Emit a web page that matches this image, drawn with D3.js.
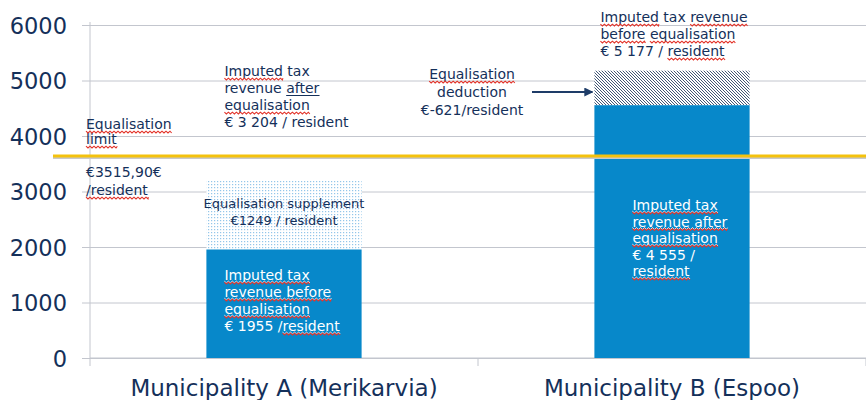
<!DOCTYPE html>
<html lang="en">

<head>
    <meta charset="UTF-8">
    <title>Equalisation</title>
    <style>
        body { margin: 0; background: #fff; }
        svg text { font-family: "DejaVu Sans", Verdana, sans-serif; }
    </style>
</head>

<body>
    <svg id="svg" width="866" height="400"></svg>

    <script src="https://d3js.org/d3.v7.min.js"></script>
    <script>
        // values
        const categories = ['Municipality A (Merikarvia)', 'Municipality B (Espoo)']
        const beforeValues = [1955, 5177]   // imputed tax revenue before equalisation
        const afterValues = [3204, 4555]    // imputed tax revenue after equalisation
        const yTicks = [0, 1000, 2000, 3000, 4000, 5000, 6000]
        const limitValue = 3640             // where the yellow line is drawn

        // annotation lines: [text, decoration] pieces ('sq' = spell squiggle, 'ul' = underline)
        const limitText = [
            [['Equalisation', 'sq']],
            [['limit', 'sq']]
        ]
        const limitValueText = [
            [['€3515,90€', '']],
            [['/resident', 'sq']]
        ]
        const afterAText = [
            [['Imputed', 'sq'], [' tax', '']],
            [['revenue ', ''], ['after', 'ul']],
            [['equalisation', 'sq']],
            [['€ 3 204 / resident', '']]
        ]
        const supplementText = [
            [['Equalisation supplement', '']],
            [['€1249 / resident', '']]
        ]
        const beforeAText = [
            [['Imputed tax', 'sq']],
            [['revenue before', 'sq']],
            [['equalisation', 'sq']],
            [['€ 1955 /', ''], ['resident', 'sq']]
        ]
        const deductionText = [
            [['Equalisation', 'sq']],
            [['deduction', '']],
            [['€-621/resident', '']]
        ]
        const beforeBText = [
            [['Imputed', 'sq'], [' tax ', ''], ['revenue', 'sq']],
            [['before', 'sq'], [' ', ''], ['equalisation', 'sq']],
            [['€ 5 177 / ', ''], ['resident', 'sq']]
        ]
        const afterBText = [
            [['Imputed tax', 'sq']],
            [['revenue after', 'sq']],
            [['equalisation', 'sq']],
            [['€ 4 555 /', '']],
            [['resident', 'sq']]
        ]

        const svg = d3.select('#svg')
        const mLeft = 90, mRight = 866, mTop = 25, mBottom = 358
        const navy = '#14305a'
        const blue = '#0788ca'
        const grid = '#c3c6ce'

        const x = d3.scaleBand()
            .domain(categories)
            .range([mLeft, mRight])
        const y = d3.scaleLinear()
            .domain([0, 6000])
            .range([mBottom, mTop])

        const barW = x.bandwidth() * 0.4
        const barX = d => x(d) + (x.bandwidth() - barW) / 2

        // patterns
        const defs = svg.append('defs')
        const dots = defs.append('pattern')
            .attr('id', 'dots')
            .attr('width', 3).attr('height', 3)
            .attr('patternUnits', 'userSpaceOnUse')
        dots.append('rect').attr('width', 3).attr('height', 3).attr('fill', '#fff')
        dots.append('rect').attr('x', 1).attr('y', 1).attr('width', 1.2).attr('height', 1.2).attr('fill', '#93c6ea')

        const hatch = defs.append('pattern')
            .attr('id', 'hatch')
            .attr('width', 3).attr('height', 3)
            .attr('patternUnits', 'userSpaceOnUse')
        hatch.append('rect').attr('width', 3).attr('height', 3).attr('fill', '#fff')
        hatch.append('path')
            .attr('d', 'M-1,-1 L4,4 M-1,2 L1,4 M2,-1 L4,1')
            .attr('stroke', '#2c4466').attr('stroke-width', 0.9)

        defs.append('marker')
            .attr('id', 'arrow')
            .attr('viewBox', '0 0 10 10')
            .attr('refX', 9).attr('refY', 5)
            .attr('markerWidth', 4.5).attr('markerHeight', 4.5)
            .attr('orient', 'auto')
            .append('path')
            .attr('d', 'M0,0 L10,5 L0,10 Z')
            .attr('fill', '#1e3c68')

        // grid + y axis
        const yAxis = svg.append('g')
            .attr('transform', `translate(${mLeft},0)`)
            .call(d3.axisLeft(y).tickValues(yTicks).tickFormat(d3.format('d')).tickSize(8).tickPadding(15))
        yAxis.select('.domain').remove()
        yAxis.selectAll('.tick line')
            .attr('x2', mRight - mLeft)
            .attr('x1', -8)
            .attr('stroke', grid)
        yAxis.selectAll('.tick text')
            .attr('fill', navy)
            .style('font-size', '22.5px')
            .attr('dy', '0.36em')

        svg.append('line')
            .attr('x1', mLeft).attr('x2', mLeft)
            .attr('y1', mTop - 3).attr('y2', mBottom + 8)
            .attr('stroke', grid)

        // bottom axis (ticks on category boundaries)
        svg.append('line')
            .attr('x1', mLeft).attr('x2', mRight)
            .attr('y1', mBottom).attr('y2', mBottom)
            .attr('stroke', grid)
        svg.selectAll('.sep')
            .data(categories)
            .enter()
            .append('line')
            .attr('x1', d => x(d) + x.bandwidth())
            .attr('x2', d => x(d) + x.bandwidth())
            .attr('y1', mBottom).attr('y2', mBottom + 8)
            .attr('stroke', grid)
        svg.selectAll('.cat')
            .data(categories)
            .enter()
            .append('text')
            .attr('x', d => x(d) + x.bandwidth() / 2)
            .attr('y', 396)
            .attr('text-anchor', 'middle')
            .attr('fill', navy)
            .style('font-size', '23px')
            .text(d => d)

        // bars
        const lower = categories.map((c, i) => Math.min(beforeValues[i], afterValues[i]))
        const upper = categories.map((c, i) => Math.max(beforeValues[i], afterValues[i]))

        svg.selectAll('.top')
            .data(categories)
            .enter()
            .append('rect')
            .attr('x', d => barX(d))
            .attr('width', barW)
            .attr('y', (d, i) => y(upper[i]))
            .attr('height', (d, i) => y(lower[i]) - y(upper[i]))
            .attr('fill', (d, i) => afterValues[i] > beforeValues[i] ? 'url(#dots)' : 'url(#hatch)')

        svg.selectAll('.base')
            .data(categories)
            .enter()
            .append('rect')
            .attr('x', d => barX(d))
            .attr('width', barW)
            .attr('y', (d, i) => y(lower[i]))
            .attr('height', (d, i) => y(0) - y(lower[i]))
            .attr('fill', blue)

        // equalisation limit
        svg.append('line')
            .attr('x1', 53).attr('x2', mRight)
            .attr('y1', y(limitValue) + 2).attr('y2', y(limitValue) + 2)
            .attr('stroke', '#c9c9c9').attr('stroke-width', 2)
        svg.append('line')
            .attr('x1', 53).attr('x2', mRight)
            .attr('y1', y(limitValue)).attr('y2', y(limitValue))
            .attr('stroke', '#f4c20d').attr('stroke-width', 3)

        // text helper, squiggles and underlines drawn as paths under the words
        const deco = svg.append('g')
        function wave(x0, x1, yy) {
            let d = `M${x0},${yy}`
            for (let xx = x0, k = 0; xx < x1; xx += 2, k++) {
                d += ` L${Math.min(xx + 2, x1)},${yy + (k % 2 ? 0 : 1.8)}`
            }
            return d
        }
        function block(lines, px, py, opts) {
            const lh = opts.lh || 17
            const color = opts.color || navy
            const t = svg.append('text')
                .attr('x', px)
                .attr('y', py)
                .attr('text-anchor', opts.anchor || 'start')
                .attr('fill', color)
                .style('font-size', (opts.size || 14) + 'px')
            lines.forEach((line, i) => {
                const base = py + i * lh
                line.forEach((piece, j) => {
                    const s = t.append('tspan')
                        .style('white-space', 'pre')
                        .text(piece[0])
                    if (j === 0) s.attr('x', px).attr('y', base)
                    if (piece[1]) s.attr('data-deco', piece[1]).attr('data-base', base)
                })
            })
            t.selectAll('tspan[data-deco]').each(function () {
                const b = this.getBBox()
                const kind = this.getAttribute('data-deco')
                const base = +this.getAttribute('data-base')
                if (kind === 'sq') {
                    if (color === '#fff') {
                        deco.append('path')
                            .attr('d', wave(b.x, b.x + b.width, base + 1.2))
                            .attr('fill', 'none')
                            .attr('stroke', '#fff')
                            .attr('stroke-width', 1)
                    }
                    deco.append('path')
                        .attr('d', wave(b.x, b.x + b.width, base + 2.2))
                        .attr('fill', 'none')
                        .attr('stroke', '#e3342a')
                        .attr('stroke-width', 1.1)
                } else {
                    deco.append('line')
                        .attr('x1', b.x).attr('x2', b.x + b.width)
                        .attr('y1', base + 2.5).attr('y2', base + 2.5)
                        .attr('stroke', color)
                }
            })
        }

        const xa = barX(categories[0]), xb = barX(categories[1])
        block(limitText, 86, 129, { lh: 15 })
        block(limitValueText, 86, 177, { lh: 18 })
        block(afterAText, xa + 18, 76, {})
        block(supplementText, xa + barW / 2, 208, { anchor: 'middle', size: 13 })
        block(beforeAText, xa + 18, 280, { color: '#fff' })
        block(deductionText, 472, 79, { anchor: 'middle', lh: 18 })
        block(beforeBText, xb + 6, 22, {})
        block(afterBText, xb + 38, 210, { color: '#fff', lh: 16.5 })
        deco.raise()

        // arrow to the deduction part
        svg.append('line')
            .attr('x1', 532).attr('x2', xb - 2)
            .attr('y1', 92).attr('y2', 92)
            .attr('stroke', '#1e3c68').attr('stroke-width', 2)
            .attr('marker-end', 'url(#arrow)')
    </script>
</body>

</html>
